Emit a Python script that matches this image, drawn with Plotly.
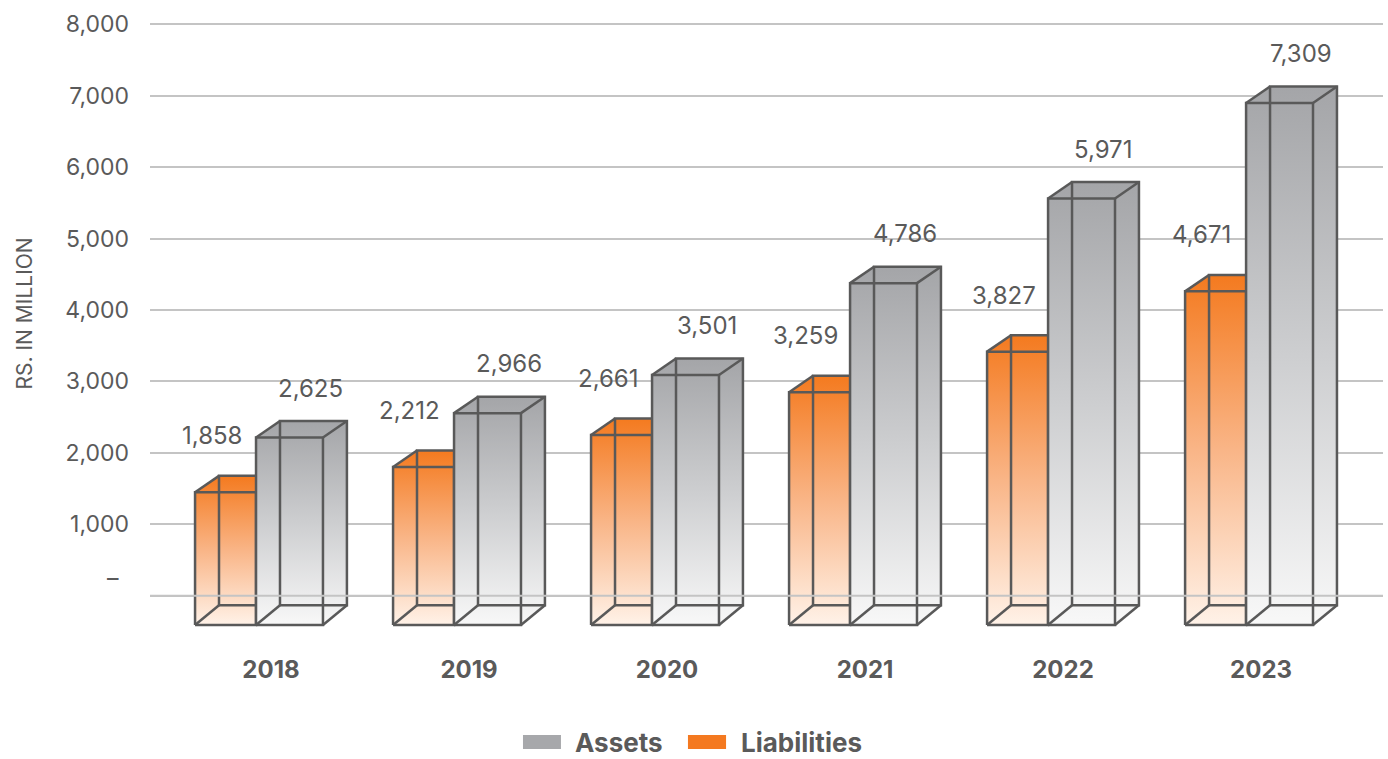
import plotly.graph_objects as go

# ---------------- data ----------------
years = ["2018", "2019", "2020", "2021", "2022", "2023"]
assets = [2625, 2966, 3501, 4786, 5971, 7309]
liabilities = [1858, 2212, 2661, 3259, 3827, 4671]
y_tickvals = [0, 1000, 2000, 3000, 4000, 5000, 6000, 7000, 8000]
y_ticktext = ["", "1,000", "2,000", "3,000", "4,000", "5,000", "6,000", "7,000", "8,000"]

# ---------------- style ----------------
FONT = "Inter"
TXT = "#5A5A5A"
EDGE = "#595959"
GRID = "#C4C4C4"
ORANGE_SCALE = [[0, "#FFF2E8"], [0.5, "#F9B587"], [1, "#F47A1F"]]
GRAY_SCALE = [[0, "#F8F8F8"], [0.5, "#CDCED0"], [1, "#A4A5A8"]]

# 3D box geometry (axis units)
W_LIAB = 0.308
W_ASSET = 0.338
DX = 0.121
FRONT_OFF = -410      # front face drops below the value plane
DEPTH_BOTTOM = 276    # back face raised at the bottom
DEPTH_TOP = 230       # back face raised at the top
GROUP_HALF = (W_LIAB + W_ASSET + DX) / 2

fig = go.Figure()


def box(x0, w, v, scale):
    x1 = x0 + w
    yb = FRONT_OFF
    yt = v + FRONT_OFF
    ybb = yb + DEPTH_BOTTOM
    ytb = yt + DEPTH_TOP
    # silhouette fill
    fig.add_trace(go.Scatter(
        x=[x0, x0, x0 + DX, x1 + DX, x1 + DX, x1, x0],
        y=[yb, yt, ytb, ytb, ybb, yb, yb],
        mode="lines", line=dict(width=0), fill="toself",
        fillgradient=dict(type="vertical", colorscale=scale),
        hoverinfo="skip", showlegend=False))
    # wireframe edges
    ex, ey = [], []
    segs = [
        [(x0, yb), (x0, yt), (x1, yt), (x1, yb), (x0, yb)],
        [(x0 + DX, ybb), (x0 + DX, ytb), (x1 + DX, ytb), (x1 + DX, ybb), (x0 + DX, ybb)],
        [(x0, yb), (x0 + DX, ybb)],
        [(x0, yt), (x0 + DX, ytb)],
        [(x1, yt), (x1 + DX, ytb)],
        [(x1, yb), (x1 + DX, ybb)],
    ]
    for s in segs:
        for (a, b) in s:
            ex.append(a)
            ey.append(b)
        ex.append(None)
        ey.append(None)
    fig.add_trace(go.Scatter(x=ex, y=ey, mode="lines",
                             line=dict(color=EDGE, width=2.5),
                             hoverinfo="skip", showlegend=False))
    return ytb


annotations = []
for i, (yr, a, l) in enumerate(zip(years, assets, liabilities)):
    left = i - GROUP_HALF
    ytb_l = box(left, W_LIAB, l, ORANGE_SCALE)
    ytb_a = box(left + W_LIAB, W_ASSET, a, GRAY_SCALE)
    annotations.append(dict(x=i - 0.30, y=ytb_l, xref="x", yref="y", text=f"{l:,}",
                            showarrow=False, yshift=40,
                            font=dict(family=FONT, size=24, color=TXT)))
    annotations.append(dict(x=i + 0.20, y=ytb_a, xref="x", yref="y", text=f"{a:,}",
                            showarrow=False, yshift=33,
                            font=dict(family=FONT, size=24, color=TXT)))

# zero-dash tick label
annotations.append(dict(x=-0.0235, y=0, xref="paper", yref="y", text="–", xanchor="right",
                        showarrow=False, yshift=18,
                        font=dict(family=FONT, size=23, color=TXT)))
# y-axis title
annotations.append(dict(x=-0.1135, y=0.5175, xref="paper", yref="paper", text="RS. IN MILLION",
                        textangle=-90, showarrow=False,
                        font=dict(family=FONT, size=21, color=TXT)))
# legend (manual)
LEG_Y = -0.162
annotations.append(dict(x=0.3431, y=LEG_Y, xref="paper", yref="paper", text="Assets",
                        xanchor="left", yanchor="middle", showarrow=False,
                        font=dict(family=FONT, size=26, color=TXT, weight="bold")))
annotations.append(dict(x=0.4777, y=LEG_Y, xref="paper", yref="paper", text="Liabilities",
                        xanchor="left", yanchor="middle", showarrow=False,
                        font=dict(family=FONT, size=26, color=TXT, weight="bold")))

shapes = [
    dict(type="line", xref="paper", x0=0, x1=1, yref="y", y0=0, y1=0,
         line=dict(color=GRID, width=2), layer="above"),
    dict(type="rect", xref="paper", yref="paper", x0=0.3025, x1=0.3333,
         y0=LEG_Y - 0.0111, y1=LEG_Y + 0.0111, fillcolor="#A7A8AB", line=dict(width=0)),
    dict(type="rect", xref="paper", yref="paper", x0=0.4363, x1=0.4672,
         y0=LEG_Y - 0.0111, y1=LEG_Y + 0.0111, fillcolor="#F47920", line=dict(width=0)),
]

fig.update_layout(
    width=1388, height=759,
    margin=dict(l=150, r=5, t=10, b=119),
    paper_bgcolor="white", plot_bgcolor="white",
    showlegend=False,
    annotations=annotations,
    shapes=shapes,
    xaxis=dict(range=[-0.611, 5.616], tickmode="array", tickvals=list(range(len(years))),
               ticktext=years, showgrid=False, zeroline=False,
               showline=False, ticks="", ticklabelstandoff=13,
               tickfont=dict(family=FONT, size=24, color=TXT, weight="bold"), fixedrange=True),
    yaxis=dict(range=[-620, 8200], tickmode="array", tickvals=y_tickvals, ticktext=y_ticktext,
               showgrid=True, gridcolor=GRID, gridwidth=2, zeroline=False, showline=False,
               ticks="", ticklabelstandoff=20,
               tickfont=dict(family=FONT, size=23, color=TXT), fixedrange=True),
)

fig.write_html("out.html")
